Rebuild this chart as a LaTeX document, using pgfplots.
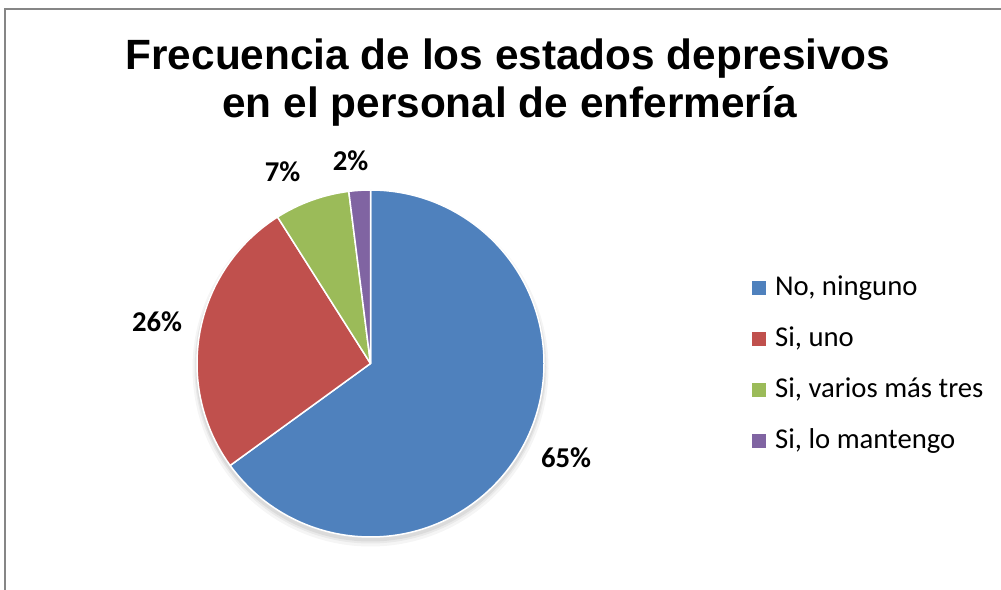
\documentclass[border=0pt]{standalone}
\usepackage{fontspec}
\usepackage{pgfplots}
\usepackage{pgfplotstable}
\pgfplotsset{compat=1.18}
\newfontfamily\arialfont{Liberation Sans}
\newfontfamily\calfont{Carlito}
\definecolor{c0}{HTML}{4F81BD}
\definecolor{c1}{HTML}{C0504D}
\definecolor{c2}{HTML}{9BBB59}
\definecolor{c3}{HTML}{8064A2}
\definecolor{framegray}{HTML}{868686}

\pgfplotstableread{
idx pct
0 65
1 26
2 7
3 2
}\piedata

\begin{document}
\begin{tikzpicture}
\gdef\cum{0}
\begin{axis}[hide axis, scale only axis, width=1001bp, height=590bp,
  xmin=0, xmax=1001, ymin=0, ymax=590, clip=false,
  legend style={at={(axis cs:749,317)}, anchor=north west, draw=none, fill=none,
    font=\calfont\fontsize{28.8}{34}\selectfont,
    nodes={inner sep=0pt, text height=20bp, text depth=6bp},
    row sep=25bp, cells={anchor=west},
    /tikz/every odd column/.append style={column sep=9bp}},
  legend image code/.code={\fill[#1] (0bp,-7bp) rectangle (14bp,7bp);}
]
\coordinate (bbbl) at (axis cs:0,0);
\coordinate (bbtr) at (axis cs:1001,590);
% frame
\draw[framegray, line width=1.3bp] (axis cs:5,0) -- (axis cs:5,581) -- (axis cs:1001,581);
% shadow
\fill[black, opacity=0.04] (axis cs:370.5,221.5) circle[radius=178bp];
\fill[black, opacity=0.05] (axis cs:370.5,222.5) circle[radius=176bp];
\fill[black, opacity=0.06] (axis cs:370.5,223.5) circle[radius=175bp];
% pie
\pgfplotsinvokeforeach{0,1,2,3}{%
  \pgfplotstablegetelem{#1}{pct}\of\piedata
  \pgfmathsetmacro\sa{90-3.6*\cum}%
  \pgfmathsetmacro\newcum{\cum+\pgfplotsretval}%
  \pgfmathsetmacro\ea{90-3.6*\newcum}%
  \xdef\cum{\newcum}%
  \edef\temp{\noexpand\filldraw[fill=c#1, draw=white, line width=1.5bp, line join=round] (axis cs:370.5,226.5) -- ++(\sa:173.5bp) arc[start angle=\sa, end angle=\ea, radius=173.5bp] -- cycle;}%
  \temp
}
% data labels
\node[anchor=base, font=\calfont\bfseries\fontsize{28.8}{34}\selectfont] at (axis cs:566,122.3) {65\%};
\node[anchor=base, font=\calfont\bfseries\fontsize{28.8}{34}\selectfont] at (axis cs:157,258) {26\%};
\node[anchor=base, font=\calfont\bfseries\fontsize{28.8}{34}\selectfont] at (axis cs:282.5,408) {7\%};
\node[anchor=base, font=\calfont\bfseries\fontsize{28.8}{34}\selectfont] at (axis cs:350.5,419) {2\%};
% title
\node[anchor=base, font=\arialfont\bfseries\fontsize{42.5}{49}\selectfont] at (axis cs:508,520.5) {Frecuencia de los estados depresivos};
\node[anchor=base, font=\arialfont\bfseries\fontsize{42.5}{49}\selectfont] at (axis cs:509.5,472) {en el personal de enfermería};
% legend
\addlegendimage{fill=c0, draw=none}\addlegendentry{No, ninguno}
\addlegendimage{fill=c1, draw=none}\addlegendentry{Si, uno}
\addlegendimage{fill=c2, draw=none}\addlegendentry{Si, varios más tres}
\addlegendimage{fill=c3, draw=none}\addlegendentry{Si, lo mantengo}
\end{axis}
\pgfresetboundingbox
\path[use as bounding box] (bbbl) rectangle (bbtr);
\end{tikzpicture}
\end{document}
